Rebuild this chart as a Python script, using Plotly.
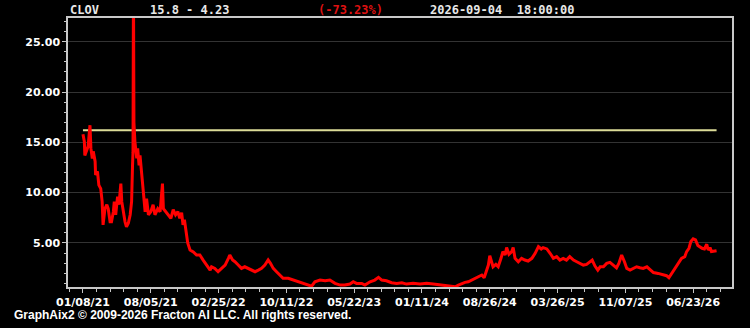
import plotly.graph_objects as go

# Trading-session index (0 = 01/08/21) and close price
sessions = [0, 3, 4, 11, 15, 17, 20, 22, 26, 27, 31, 34, 38, 41, 43, 47, 51, 54, 58, 61,
            65, 67, 70, 74, 77, 81, 83, 86, 90, 93, 97, 101, 104, 106, 107, 108, 109, 111, 115, 117,
            120, 122, 126, 129, 133, 136, 140, 145, 150, 154, 160, 165, 170, 172, 177, 182, 188, 193, 198, 203,
            207, 211, 214, 217, 221, 224, 229, 236, 243, 250, 257, 265, 272, 275, 282, 289, 297, 304, 311, 314,
            320, 325, 332, 339, 346, 354, 361, 368, 375, 382, 389, 396, 401, 407, 414, 421, 428, 439, 450, 460,
            471, 482, 489, 496, 507, 518, 528, 539, 550, 560, 571, 578, 585, 596, 603, 614, 624, 632, 639, 649,
            660, 671, 682, 692, 706, 721, 735, 749, 763, 778, 788, 796, 803, 810, 817, 824, 831, 838, 845, 853,
            858, 863, 867, 870, 874, 877, 883, 888, 894, 898, 903, 906, 911, 917, 920, 924, 931, 938, 945, 952,
            960, 967, 974, 980, 984, 992, 999, 1006, 1013, 1020, 1027, 1034, 1041, 1049, 1056, 1063, 1070, 1077, 1084, 1089,
            1095, 1101, 1106, 1113, 1120, 1127, 1134, 1141, 1146, 1152, 1158, 1163, 1170, 1177, 1184, 1191, 1198, 1206, 1213, 1220,
            1230, 1241, 1248, 1253, 1259, 1266, 1273, 1280, 1287, 1291, 1296, 1300, 1305, 1310, 1315, 1320, 1324, 1329, 1334, 1337,
            1341, 1344, 1350, 1355]
prices = [15.8, 15.06, 13.7, 14.6, 16.7, 14.4, 13.4, 14.1, 13.1, 11.75, 12.1, 10.75, 10.4, 9.1, 6.8, 8.4, 8.8, 8.4, 7.1, 7.1,
          8.1, 9.1, 7.8, 9.6, 8.8, 10.9, 9.1, 8.1, 7.1, 6.6, 6.95, 7.8, 9.1, 12.7, 14.0, 31.0, 17.0, 15.1, 13.4, 14.4,
          12.7, 13.7, 11.4, 9.8, 8.1, 9.4, 7.8, 8.1, 8.8, 7.8, 8.4, 8.1, 10.9, 8.4, 8.1, 7.8, 7.45, 8.3, 7.8, 8.1,
          7.45, 8.0, 6.8, 7.3, 5.9, 5.0, 4.3, 4.1, 3.8, 3.8, 3.3, 2.8, 2.3, 2.63, 2.47, 2.14, 2.47, 2.8, 3.47, 3.8,
          3.3, 3.13, 2.8, 2.47, 2.63, 2.47, 2.3, 2.14, 2.3, 2.47, 2.8, 3.3, 2.97, 2.47, 2.14, 1.8, 1.48, 1.48, 1.3, 1.14,
          0.98, 0.81, 0.7, 1.14, 1.31, 1.24, 1.31, 0.98, 0.81, 0.81, 0.91, 1.14, 0.98, 0.98, 0.81, 1.14, 1.31, 1.58, 1.31, 1.24,
          1.04, 0.98, 1.04, 0.91, 0.98, 0.91, 0.98, 0.91, 0.81, 0.71, 0.64, 0.64, 0.81, 0.98, 1.08, 1.14, 1.31, 1.41, 1.64, 1.81,
          1.54, 2.14, 2.8, 3.73, 2.97, 2.63, 2.87, 2.63, 3.47, 4.14, 3.8, 4.54, 3.87, 4.14, 4.54, 3.47, 3.13, 3.47, 3.3, 3.2,
          3.47, 3.97, 4.64, 4.4, 4.54, 4.4, 3.97, 3.47, 3.64, 3.3, 3.47, 3.3, 3.64, 3.3, 3.13, 2.97, 2.8, 2.87, 3.13, 3.3,
          2.7, 2.3, 2.63, 2.63, 2.97, 3.07, 2.8, 2.53, 2.97, 3.8, 3.13, 2.47, 2.3, 2.47, 2.63, 2.53, 2.47, 2.63, 2.3, 2.06,
          1.97, 1.81, 1.74, 1.54, 1.97, 2.47, 2.97, 3.47, 3.64, 4.14, 4.47, 5.14, 5.41, 5.31, 4.74, 4.54, 4.47, 4.4, 4.87, 4.3,
          4.54, 4.14, 4.2, 4.23]

reference_level = 16.2

tick_sessions = [0, 145, 290, 435, 580, 725, 870, 1015, 1160, 1305]
tick_labels = ["01/08/21", "08/05/21", "02/25/22", "10/11/22", "05/22/23",
               "01/11/24", "08/26/24", "03/26/25", "11/07/25", "06/23/26"]
y_ticks = [5, 10, 15, 20, 25]
y_labels = ["5.00", "10.00", "15.00", "20.00", "25.00"]

symbol = "CLOV"
range_text = "15.8 - 4.23"
change_text = "(-73.23%)"
stamp_text = "2026-09-04  18:00:00"
footer_text = "GraphAix2 \u00a9 2009-2026 Fracton AI LLC. All rights reserved."

fig = go.Figure()
fig.add_trace(go.Scatter(x=[sessions[0], sessions[-1]], y=[reference_level, reference_level],
                         mode="lines", line=dict(color="#dcdc98", width=2), hoverinfo="skip"))
fig.add_trace(go.Scatter(x=sessions, y=prices, mode="lines",
                         line=dict(color="#ff0000", width=3)))

axis_col = "#c8c8c8"
fig.update_layout(
    width=750, height=328,
    margin=dict(l=68, r=18, t=18, b=41),
    paper_bgcolor="black", plot_bgcolor="black",
    showlegend=False,
    xaxis=dict(range=[-32, 1388], tickmode="array", tickvals=tick_sessions, ticktext=tick_labels,
               showgrid=False, zeroline=False, showline=True, linecolor=axis_col, linewidth=1.5,
               mirror=True, ticks="outside", ticklen=4, tickcolor=axis_col,
               tickfont=dict(family="DejaVu Sans", size=11, color="white", weight="bold"),
               minor=dict(dtick=29, tick0=0, ticks="outside", ticklen=3, tickcolor=axis_col, showgrid=False)),
    yaxis=dict(range=[0.62, 27.36], tickmode="array", tickvals=y_ticks, ticktext=y_labels,
               showgrid=True, gridcolor="#333333", gridwidth=1, zeroline=False,
               showline=True, linecolor=axis_col, linewidth=1.5, mirror=True,
               ticks="outside", ticklen=4, tickcolor=axis_col,
               tickfont=dict(family="DejaVu Sans", size=11, color="white", weight="bold"),
               minor=dict(dtick=1, tick0=0, ticks="outside", ticklen=2, tickcolor=axis_col, showgrid=False)),
)

hdr_font = dict(family="DejaVu Sans Mono", size=12, color="#e8e8e8", weight="bold")
for xp, txt, col in [(0.0, symbol, "#e8e8e8"), (0.12, range_text, "#e8e8e8"),
                     (0.373, change_text, "#dd1111"), (0.542, stamp_text, "#e8e8e8")]:
    f = dict(hdr_font)
    f["color"] = col
    fig.add_annotation(x=xp, y=1.0297, xref="paper", yref="paper", text=txt, showarrow=False,
                       xanchor="left", yanchor="middle", font=f)
fig.add_annotation(x=-0.085, y=-0.104, xref="paper", yref="paper", text=footer_text, showarrow=False,
                   xanchor="left", yanchor="middle",
                   font=dict(family="Liberation Sans", size=12, color="white", weight="bold"))

fig.write_html("out.html")
